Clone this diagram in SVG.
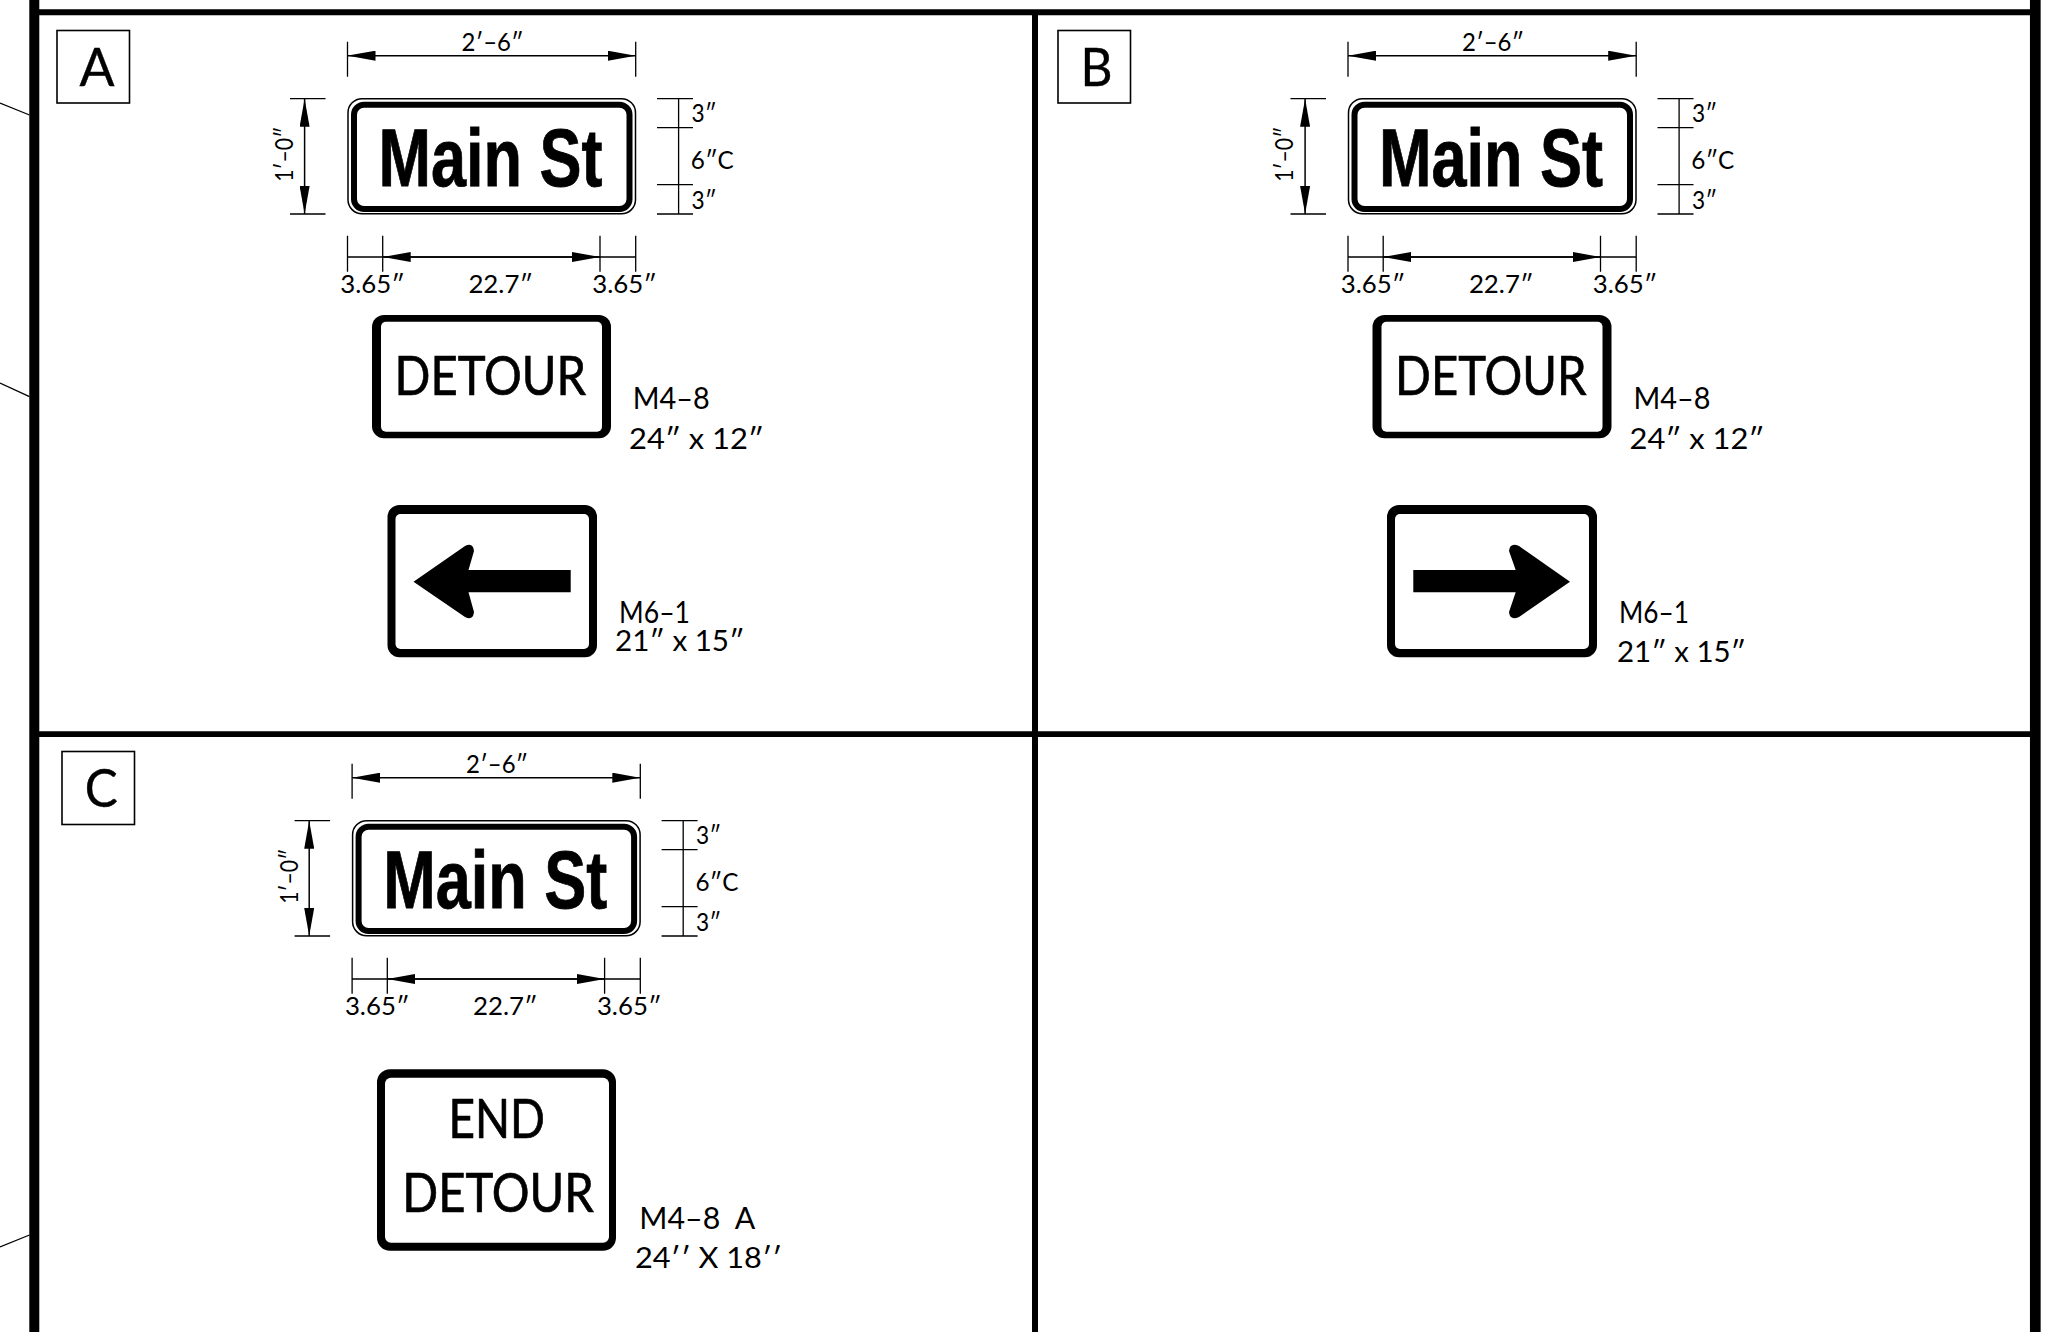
<svg xmlns="http://www.w3.org/2000/svg" width="2057" height="1332" viewBox="0 0 2057 1332">
<style>
text{font-family:"Lato","Noto Sans",sans-serif;fill:#000}
.d{font-size:24.5px}
.m{font-family:"Liberation Sans",Arial,sans-serif;font-weight:700;font-size:82px;stroke:#000;stroke-width:.8}
.s{font-size:54px;stroke:#000;stroke-width:.7}
.c{font-size:30px}
.z{font-size:28px}
.b{font-size:53px;stroke:#000;stroke-width:.4}
.f{stroke:#000;fill:none}
.th{stroke:#000;fill:none;stroke-width:1.3}
.dl{stroke:#000;fill:none;stroke-width:1.5;marker-start:url(#arr);marker-end:url(#arr)}
.box{fill:#fff;stroke:#000;stroke-width:1.6}
.ol{fill:#fff;stroke:#000;stroke-width:1.5}
.il{fill:none;stroke:#000;stroke-width:6}
</style>
<defs>
<marker id="arr" viewBox="0 0 28 10" refX="28" refY="5" markerWidth="28" markerHeight="10" markerUnits="userSpaceOnUse" orient="auto-start-reverse"><path d="M0 0L28 5L0 10Z" fill="#000"/></marker>
</defs>
<rect width="2057" height="1332" fill="#fff"/>
<g id="frame">
<line class="f" x1="34.3" y1="0" x2="34.3" y2="1332" stroke-width="10"/>
<line class="f" x1="2035.3" y1="0" x2="2035.3" y2="1332" stroke-width="10.7"/>
<line class="f" x1="1035" y1="12" x2="1035" y2="1332" stroke-width="6"/>
<line class="f" x1="34" y1="12.3" x2="2035" y2="12.3" stroke-width="6"/>
<line class="f" x1="34" y1="734.2" x2="2035" y2="734.2" stroke-width="5.7"/>
<path class="th" d="M0 103L29.5 115M0 383L29.5 396.7M0 1247L29.5 1235"/>
</g>
<g id="connectors">
<g id="dims-a">
<path class="th" d="M347.5 41.7V76.7M635.7 41.7V76.7M290 98.7H325.5M290 214H325.5M657 98.7H693M657 127.7H693M657 184.7H693M657 214H693M678.6 98.7V214M347.5 235.7V271.7M382.7 235.7V271.7M600 235.7V271.7M635.7 235.7V271.7M347.5 257H635.7"/>
<line class="dl" x1="347.5" y1="55.7" x2="635.7" y2="55.7"/>
<line class="dl" x1="304.6" y1="98.7" x2="304.6" y2="214"/>
<line class="dl" x1="382.7" y1="257" x2="600" y2="257"/>
</g>
<g id="dims-b" transform="translate(1000.5 0)">
<path class="th" d="M347.5 41.7V76.7M635.7 41.7V76.7M290 98.7H325.5M290 214H325.5M657 98.7H693M657 127.7H693M657 184.7H693M657 214H693M678.6 98.7V214M347.5 235.7V271.7M382.7 235.7V271.7M600 235.7V271.7M635.7 235.7V271.7M347.5 257H635.7"/>
<line class="dl" x1="347.5" y1="55.7" x2="635.7" y2="55.7"/>
<line class="dl" x1="304.6" y1="98.7" x2="304.6" y2="214"/>
<line class="dl" x1="382.7" y1="257" x2="600" y2="257"/>
</g>
<g id="dims-c" transform="translate(4.6 722)">
<path class="th" d="M347.5 41.7V76.7M635.7 41.7V76.7M290 98.7H325.5M290 214H325.5M657 98.7H693M657 127.7H693M657 184.7H693M657 214H693M678.6 98.7V214M347.5 235.7V271.7M382.7 235.7V271.7M600 235.7V271.7M635.7 235.7V271.7M347.5 257H635.7"/>
<line class="dl" x1="347.5" y1="55.7" x2="635.7" y2="55.7"/>
<line class="dl" x1="304.6" y1="98.7" x2="304.6" y2="214"/>
<line class="dl" x1="382.7" y1="257" x2="600" y2="257"/>
</g>
</g>
<g id="panel-label-a"><rect class="box" x="57" y="30.5" width="72.5" height="72.5"/><text class="b" x="79.5" y="86" textLength="35" lengthAdjust="spacingAndGlyphs">A</text></g>
<g id="panel-label-b"><rect class="box" x="1058" y="30.5" width="72.5" height="72.5"/><text class="b" x="1080.5" y="86" textLength="32" lengthAdjust="spacingAndGlyphs">B</text></g>
<g id="panel-label-c"><rect class="box" x="62" y="751.5" width="72.5" height="73"/><text class="b" x="84.7" y="807.3" textLength="33" lengthAdjust="spacingAndGlyphs">C</text></g>

<g id="street-sign-a">
<rect class="ol" x="348" y="98.7" width="287.5" height="115" rx="14"/>
<rect class="il" x="354" y="104.7" width="275.5" height="104.3" rx="10"/>
<text class="m" x="378.6" y="186" textLength="224" lengthAdjust="spacingAndGlyphs">Main St</text>
<text class="d" x="461.5" y="51" textLength="62" lengthAdjust="spacingAndGlyphs">2′–6″</text>
<text class="d" x="293" y="181.7" transform="rotate(-90 293 181.7)" textLength="55" lengthAdjust="spacingAndGlyphs">1′–0″</text>
<text class="d" x="691.5" y="122.2" textLength="25" lengthAdjust="spacingAndGlyphs">3″</text>
<text class="d" x="690.8" y="169.3" textLength="43" lengthAdjust="spacingAndGlyphs">6″C</text>
<text class="d" x="691.5" y="209" textLength="25" lengthAdjust="spacingAndGlyphs">3″</text>
<text class="d" x="340.3" y="293.3" textLength="64.5" lengthAdjust="spacingAndGlyphs">3.65″</text>
<text class="d" x="468.4" y="293.3" textLength="64.5" lengthAdjust="spacingAndGlyphs">22.7″</text>
<text class="d" x="592.3" y="293.3" textLength="64.5" lengthAdjust="spacingAndGlyphs">3.65″</text>
</g>
<g id="detour-sign-a">
<rect x="372" y="315" width="239" height="123.3" rx="12" fill="#000"/>
<rect x="381" y="321.7" width="221" height="110" rx="5" fill="#fff"/>
<text class="s" x="394.5" y="395" textLength="191.5" lengthAdjust="spacingAndGlyphs">DETOUR</text>
<text class="c" x="632.7" y="409.3" textLength="77" lengthAdjust="spacingAndGlyphs">M4–8</text>
<text class="z" x="629" y="448.7" textLength="135" lengthAdjust="spacingAndGlyphs">24″ x 12″</text>
</g>
<g id="arrow-sign-a">
<rect x="387.5" y="505" width="209.5" height="152.3" rx="12" fill="#000"/>
<rect x="395.5" y="514" width="193.5" height="135" rx="5" fill="#fff"/>
<path d="M413.5 581.7L465 546Q473 542 474 551L468.5 570H570.7V592.3H468.5L474 612Q473 621 465 617Z" fill="#000"/>
<text class="c" x="619" y="623" textLength="71" lengthAdjust="spacingAndGlyphs">M6–1</text>
<text class="z" x="615" y="651" textLength="129.5" lengthAdjust="spacingAndGlyphs">21″ x 15″</text>
</g>

<g id="street-sign-b" transform="translate(1000.5 0)">
<rect class="ol" x="348" y="98.7" width="287.5" height="115" rx="14"/>
<rect class="il" x="354" y="104.7" width="275.5" height="104.3" rx="10"/>
<text class="m" x="378.6" y="186" textLength="224" lengthAdjust="spacingAndGlyphs">Main St</text>
<text class="d" x="461.5" y="51" textLength="62" lengthAdjust="spacingAndGlyphs">2′–6″</text>
<text class="d" x="293" y="181.7" transform="rotate(-90 293 181.7)" textLength="55" lengthAdjust="spacingAndGlyphs">1′–0″</text>
<text class="d" x="691.5" y="122.2" textLength="25" lengthAdjust="spacingAndGlyphs">3″</text>
<text class="d" x="690.8" y="169.3" textLength="43" lengthAdjust="spacingAndGlyphs">6″C</text>
<text class="d" x="691.5" y="209" textLength="25" lengthAdjust="spacingAndGlyphs">3″</text>
<text class="d" x="340.3" y="293.3" textLength="64.5" lengthAdjust="spacingAndGlyphs">3.65″</text>
<text class="d" x="468.4" y="293.3" textLength="64.5" lengthAdjust="spacingAndGlyphs">22.7″</text>
<text class="d" x="592.3" y="293.3" textLength="64.5" lengthAdjust="spacingAndGlyphs">3.65″</text>
</g>
<g id="detour-sign-b" transform="translate(1000.5 0)">
<rect x="372" y="315" width="239" height="123.3" rx="12" fill="#000"/>
<rect x="381" y="321.7" width="221" height="110" rx="5" fill="#fff"/>
<text class="s" x="394.5" y="395" textLength="191.5" lengthAdjust="spacingAndGlyphs">DETOUR</text>
<text class="c" x="633" y="409.3" textLength="77" lengthAdjust="spacingAndGlyphs">M4–8</text>
<text class="z" x="629" y="448.7" textLength="135" lengthAdjust="spacingAndGlyphs">24″ x 12″</text>
</g>
<g id="arrow-sign-b">
<rect x="1387" y="505" width="210" height="152.3" rx="12" fill="#000"/>
<rect x="1395" y="514" width="194" height="135" rx="5" fill="#fff"/>
<path d="M1570 581.7L1519 546Q1510 542 1509 551L1515.7 570H1413.3V592.3H1515.7L1509 612Q1510 621 1519 617Z" fill="#000"/>
<text class="c" x="1619" y="623" textLength="70" lengthAdjust="spacingAndGlyphs">M6–1</text>
<text class="z" x="1617" y="662.3" textLength="129" lengthAdjust="spacingAndGlyphs">21″ x 15″</text>
</g>

<g id="street-sign-c" transform="translate(4.6 722)">
<rect class="ol" x="348" y="98.7" width="287.5" height="115" rx="14"/>
<rect class="il" x="354" y="104.7" width="275.5" height="104.3" rx="10"/>
<text class="m" x="378.6" y="186" textLength="224" lengthAdjust="spacingAndGlyphs">Main St</text>
<text class="d" x="461.5" y="51" textLength="62" lengthAdjust="spacingAndGlyphs">2′–6″</text>
<text class="d" x="293" y="181.7" transform="rotate(-90 293 181.7)" textLength="55" lengthAdjust="spacingAndGlyphs">1′–0″</text>
<text class="d" x="691.5" y="122.2" textLength="25" lengthAdjust="spacingAndGlyphs">3″</text>
<text class="d" x="690.8" y="169.3" textLength="43" lengthAdjust="spacingAndGlyphs">6″C</text>
<text class="d" x="691.5" y="209" textLength="25" lengthAdjust="spacingAndGlyphs">3″</text>
<text class="d" x="340.3" y="293.3" textLength="64.5" lengthAdjust="spacingAndGlyphs">3.65″</text>
<text class="d" x="468.4" y="293.3" textLength="64.5" lengthAdjust="spacingAndGlyphs">22.7″</text>
<text class="d" x="592.3" y="293.3" textLength="64.5" lengthAdjust="spacingAndGlyphs">3.65″</text>
</g>
<g id="end-detour-sign">
<rect x="377" y="1069.3" width="239" height="181.4" rx="13" fill="#000"/>
<rect x="385" y="1077.7" width="224" height="165" rx="6" fill="#fff"/>
<text class="s" x="448.5" y="1138.3" textLength="96.5" lengthAdjust="spacingAndGlyphs">END</text>
<text class="s" x="402.3" y="1212.3" textLength="191.5" lengthAdjust="spacingAndGlyphs">DETOUR</text>
<text class="c" x="639.3" y="1229.3" textLength="116" lengthAdjust="spacingAndGlyphs" xml:space="preserve">M4–8  A</text>
<text class="z" x="635" y="1267.7" textLength="147" lengthAdjust="spacingAndGlyphs">24′′ X 18′′</text>
</g>
</svg>
